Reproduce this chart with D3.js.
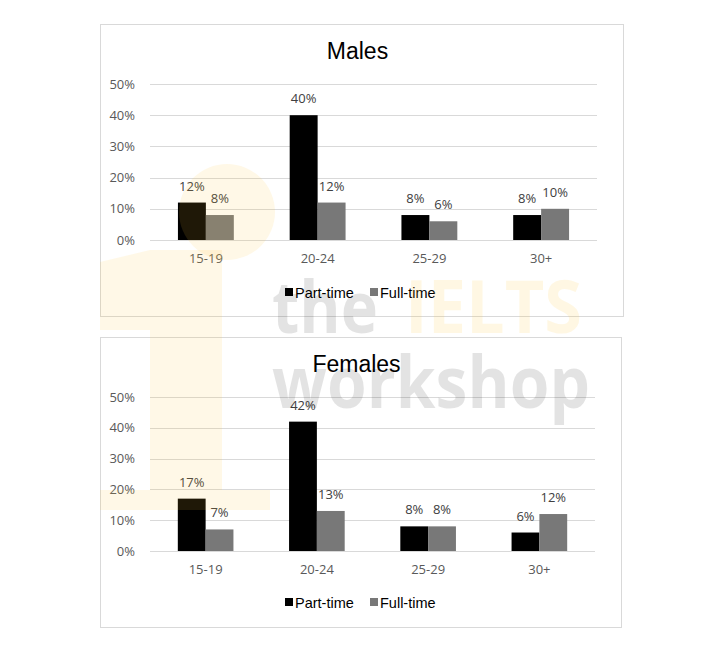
<!DOCTYPE html>
<html><head><meta charset="utf-8">
<script src="https://cdn.jsdelivr.net/npm/d3@7"></script>
<style>
html,body{margin:0;padding:0;background:#fff;}
svg{display:block;}
</style></head>
<body>
<svg id="chart" width="719" height="658"></svg>
<script>
const categories = ["15-19", "20-24", "25-29", "30+"];
const seriesNames = ["Part-time", "Full-time"];
const malesPartTime = [12, 40, 8, 8];
const malesFullTime = [8, 12, 6, 10];
const femalesPartTime = [17, 42, 8, 6];
const femalesFullTime = [7, 13, 8, 12];
const yTicks = [0, 10, 20, 30, 40, 50];
const colors = ["#000000", "#787878"];

const svg = d3.select("#chart");

const panels = [
  {title: "Males", data: [malesPartTime, malesFullTime],
   box: {x: 100.5, y: 24.5, w: 523, h: 292}, plot: {x0: 150, x1: 597, y0: 240, y1: 84},
   titleY: 59, xLabelY: 264, legendY: 298},
  {title: "Females", data: [femalesPartTime, femalesFullTime],
   box: {x: 100.5, y: 337.5, w: 521, h: 290}, plot: {x0: 150, x1: 595, y0: 551, y1: 397},
   titleY: 372, xLabelY: 575, legendY: 608}
];

panels.forEach(p => {
  const g = svg.append("g");
  g.append("rect").attr("x", p.box.x).attr("y", p.box.y).attr("width", p.box.w).attr("height", p.box.h)
    .attr("fill", "#fff").attr("stroke", "#d9d9d9").attr("stroke-width", 1);

  const x = d3.scaleBand().domain(categories).range([p.plot.x0, p.plot.x1]).paddingInner(0.5).paddingOuter(0.25);
  const xs = d3.scaleBand().domain(seriesNames).range([0, x.bandwidth()]);
  const y = d3.scaleLinear().domain([0, 50]).range([p.plot.y0, p.plot.y1]);

  g.append("g").selectAll("line").data(yTicks).join("line")
    .attr("x1", p.plot.x0).attr("x2", p.plot.x1)
    .attr("y1", d => Math.round(y(d)) + 0.5).attr("y2", d => Math.round(y(d)) + 0.5)
    .attr("stroke", "#d9d9d9").attr("stroke-width", 1);

  const yAxis = d3.axisLeft(y).tickValues(yTicks).tickFormat(d => d + "%").tickSize(0).tickPadding(15);
  const ya = g.append("g").attr("transform", `translate(${p.plot.x0},0)`).call(yAxis);
  ya.select(".domain").remove();
  ya.selectAll("text").attr("fill", "#595959").style("font-family", "'Open Sans', sans-serif").style("font-size", "13px");

  const xAxis = d3.axisBottom(x).tickSize(0).tickPadding(0);
  const xa = g.append("g").attr("transform", `translate(0,${p.xLabelY - 10})`).call(xAxis);
  xa.select(".domain").remove();
  xa.selectAll("text").attr("fill", "#595959").attr("dy", "0.71em").style("font-family", "'Open Sans', sans-serif").style("font-size", "13px");

  seriesNames.forEach((s, si) => {
    const vals = p.data[si];
    g.append("g").selectAll("rect").data(categories).join("rect")
      .attr("x", (c) => x(c) + xs(s))
      .attr("width", xs.bandwidth())
      .attr("y", (c, i) => y(vals[i]))
      .attr("height", (c, i) => y(0) - y(vals[i]))
      .attr("fill", colors[si]);
    g.append("g").selectAll("text").data(categories).join("text")
      .attr("x", (c) => x(c) + xs(s) + xs.bandwidth() / 2)
      .attr("y", (c, i) => y(vals[i]) - 12)
      .attr("text-anchor", "middle")
      .attr("fill", "#404040")
      .style("font-family", "'Open Sans', sans-serif").style("font-size", "13px")
      .text((c, i) => vals[i] + "%");
  });

  g.append("text").attr("x", (p.plot.x0 + p.plot.x1) / 2 - 16).attr("y", p.titleY)
    .attr("text-anchor", "middle").attr("fill", "#000")
    .style("font-family", "'Liberation Sans', Arial, sans-serif").style("font-size", "23px")
    .text(p.title);

  const lg = g.append("g").attr("transform", `translate(285,${p.legendY})`);
  const items = [{name: seriesNames[0], dx: 0}, {name: seriesNames[1], dx: 85}];
  items.forEach((it, i) => {
    lg.append("rect").attr("x", it.dx).attr("y", -10).attr("width", 8).attr("height", 8).attr("fill", colors[i]);
    lg.append("text").attr("x", it.dx + 10).attr("y", 0).attr("fill", "#000")
      .style("font-family", "'Liberation Sans', Arial, sans-serif").style("font-size", "14.5px")
      .text(it.name);
  });
});

// faint watermark overlay (as in the reference)
const wm = svg.append("g").attr("pointer-events", "none");
const yellow = "#ffc83c";
const wy = wm.append("g").attr("fill", yellow).attr("fill-opacity", 0.12);
wy.append("circle").attr("cx", 227).attr("cy", 212).attr("r", 48);
wy.append("path").attr("d", "M100,262 L150,250 L222,250 L222,490 L270,490 L270,510 L100,510 L100,490 L150,490 L150,330 L100,330 Z");
wm.append("text").attr("x", 272).attr("y", 333).attr("textLength", 106).attr("lengthAdjust", "spacingAndGlyphs")
  .attr("fill", "#000").attr("fill-opacity", 0.11)
  .style("font-family", "'Open Sans', sans-serif").style("font-weight", "700").style("font-size", "72px").text("the");
wm.append("text").attr("x", 405).attr("y", 333).attr("textLength", 177).attr("lengthAdjust", "spacingAndGlyphs")
  .attr("fill", yellow).attr("fill-opacity", 0.14)
  .style("font-family", "'Open Sans', sans-serif").style("font-weight", "700").style("font-size", "73px").text("IELTS");
wm.append("text").attr("x", 272).attr("y", 408).attr("textLength", 318).attr("lengthAdjust", "spacingAndGlyphs")
  .attr("fill", "#000").attr("fill-opacity", 0.11)
  .style("font-family", "'Open Sans', sans-serif").style("font-weight", "700").style("font-size", "71px").text("workshop");
</script>
</body></html>
